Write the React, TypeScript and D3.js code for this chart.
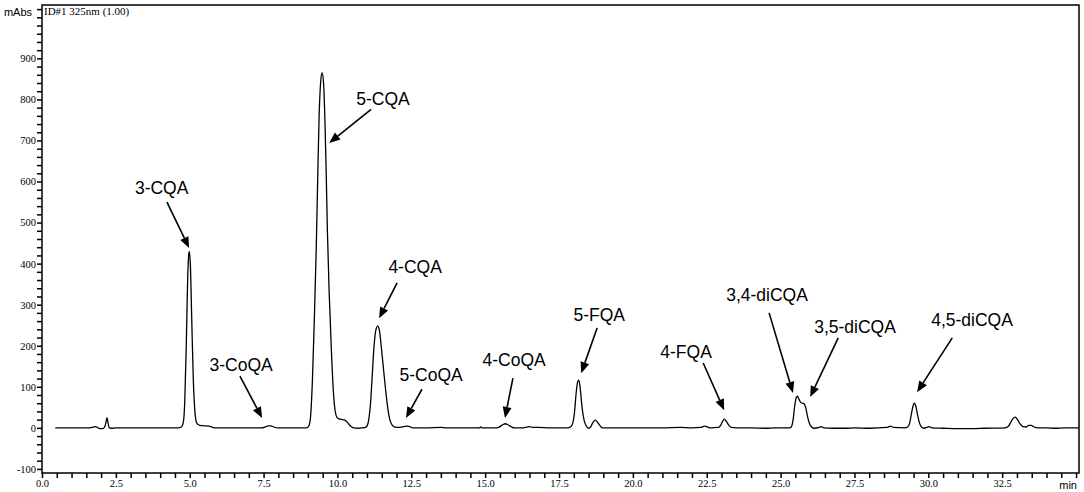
import { useEffect, useRef } from 'react';
import * as d3 from 'd3';

// retention time (min), absorbance (mAbs)
const trace: [number, number][] = [
  [0.45, 0], [1.0, 0], [1.6, 0], [1.7, 1], [1.8, 3], [1.88, 1], [1.95, -2], [2.05, -2],
  [2.12, 2], [2.17, 15], [2.2, 25], [2.23, 14], [2.28, 0], [2.35, -1], [2.5, 0], [3.2, 0],
  [3.7, 0], [4.2, 0], [4.6, 0],
  [4.72, 2], [4.78, 12], [4.83, 60], [4.88, 190], [4.93, 360], [4.97, 425], [4.99, 429],
  [5.02, 400], [5.07, 260], [5.12, 120], [5.17, 45], [5.22, 15], [5.28, 8], [5.35, 6],
  [5.5, 5], [5.65, 4], [5.75, 2], [5.85, 0], [6.5, 0], [7.0, 0], [7.4, 0], [7.55, 2],
  [7.65, 5], [7.75, 5], [7.85, 2], [7.95, 0], [8.5, 0], [8.95, 0],
  [9.02, 3], [9.08, 20], [9.15, 110], [9.22, 270], [9.28, 430], [9.33, 600], [9.38, 760],
  [9.43, 840], [9.48, 865], [9.53, 840], [9.58, 740], [9.62, 620], [9.66, 480], [9.72, 330],
  [9.8, 180], [9.87, 80], [9.93, 38], [10.0, 24], [10.1, 21], [10.25, 19], [10.35, 12],
  [10.45, 4], [10.55, 0], [10.7, -1], [10.85, 0],
  [10.95, 1], [11.0, 4], [11.06, 20], [11.12, 60], [11.18, 130], [11.24, 200], [11.3, 238],
  [11.36, 248], [11.42, 238], [11.48, 200], [11.55, 150], [11.62, 100], [11.7, 50],
  [11.78, 18], [11.86, 6], [11.95, 2], [12.1, 1], [12.25, 3], [12.35, 4], [12.45, 3],
  [12.55, 0], [13.0, 0], [13.5, 1], [13.7, 0], [14.2, 0], [14.8, 0], [14.85, 2], [14.9, 0],
  [15.4, 0], [15.5, 3], [15.6, 8], [15.68, 10], [15.78, 7], [15.9, 2], [16.0, 0], [16.3, 0],
  [16.4, 2], [16.5, 3], [16.6, 1], [16.8, 1], [17.2, 0], [17.8, 0],
  [17.88, 2], [17.95, 8], [18.02, 35], [18.08, 85], [18.13, 112], [18.17, 116], [18.22, 95],
  [18.28, 50], [18.35, 18], [18.42, 5], [18.5, -1], [18.57, 2], [18.64, 12], [18.72, 19],
  [18.8, 14], [18.88, 6], [18.96, 0], [19.3, 0], [19.8, 0], [20.5, 0], [21.0, 0], [21.6, 1],
  [22.0, 0], [22.3, 1], [22.42, 4], [22.5, 3], [22.6, 0], [22.9, 1],
  [22.97, 6], [23.03, 15], [23.1, 21], [23.17, 15], [23.25, 6], [23.33, 1], [23.5, 0],
  [24.0, 0], [24.5, -1], [24.8, 0], [25.3, 0],
  [25.36, 2], [25.42, 18], [25.48, 55], [25.53, 74], [25.57, 77], [25.62, 70], [25.68, 62],
  [25.74, 60], [25.8, 58], [25.86, 46], [25.92, 25], [25.98, 10], [26.05, 2], [26.12, -1],
  [26.3, 1], [26.38, 3], [26.46, 0], [26.8, -1], [27.2, -1], [27.5, 0], [28.0, -1],
  [28.6, 1], [28.72, 4], [28.82, 1], [29.2, 0],
  [29.3, 2], [29.37, 12], [29.43, 35], [29.49, 55], [29.53, 60], [29.58, 52], [29.64, 30],
  [29.7, 12], [29.77, 2], [29.85, -1], [29.95, 1], [30.03, 3], [30.12, 0], [30.5, -1],
  [31.0, -2], [31.5, -2], [31.9, -1], [32.6, 0],
  [32.7, 3], [32.78, 12], [32.86, 22], [32.94, 26], [33.02, 20], [33.1, 10], [33.2, 3],
  [33.3, 2], [33.4, 6], [33.48, 6], [33.58, 2], [33.7, 0], [34.0, 0], [34.3, -1], [34.6, 0],
  [35.1, 0],
];

// label position (tx, ty) and arrow from (x1, y1) to (x2, y2), in data units
const peakLabels = [
  { name: '3-CQA', tx: 4.05, ty: 569, x1: 4.23, y1: 550, x2: 4.98, y2: 438 },
  { name: '3-CoQA', tx: 6.74, ty: 138, x1: 6.7, y1: 126, x2: 7.45, y2: 24 },
  { name: '5-CQA', tx: 11.54, ty: 786, x1: 11.14, y1: 776, x2: 9.72, y2: 694 },
  { name: '4-CQA', tx: 12.63, ty: 377, x1: 12.02, y1: 353, x2: 11.41, y2: 267 },
  { name: '5-CoQA', tx: 13.17, ty: 114, x1: 12.86, y1: 94, x2: 12.32, y2: 24 },
  { name: '4-CoQA', tx: 15.98, ty: 150, x1: 15.94, y1: 121, x2: 15.67, y2: 24 },
  { name: '5-FQA', tx: 18.86, ty: 260, x1: 18.79, y1: 243, x2: 18.25, y2: 133 },
  { name: '4-FQA', tx: 21.8, ty: 170, x1: 22.38, y1: 158, x2: 23.09, y2: 43 },
  { name: '3,4-diCQA', tx: 24.54, ty: 309, x1: 24.61, y1: 280, x2: 25.42, y2: 85 },
  { name: '3,5-diCQA', tx: 27.52, ty: 231, x1: 26.95, y1: 219, x2: 26.0, y2: 75 },
  { name: '4,5-diCQA', tx: 31.48, ty: 248, x1: 30.81, y1: 219, x2: 29.62, y2: 87 },
];

const xTickLabels = [0, 2.5, 5, 7.5, 10, 12.5, 15, 17.5, 20, 22.5, 25, 27.5, 30, 32.5];
const yTickLabels = [-100, 0, 100, 200, 300, 400, 500, 600, 700, 800, 900];

const W = 1084;
const H = 492;

export default function App() {
  const ref = useRef<SVGSVGElement | null>(null);

  useEffect(() => {
    if (!ref.current) return;
    const svg = d3.select(ref.current);
    svg.selectAll('*').remove();

    const left = 42, right = 1079, top = 5, bottom = 473;
    const x = d3.scaleLinear().domain([0, 35.1]).range([left, right]);
    const y = d3.scaleLinear().domain([-110, 1030]).range([bottom, top]);

    const serif = '"Liberation Serif", "Times New Roman", serif';
    const sans = '"Liberation Sans", Arial, sans-serif';

    // frame
    svg.append('rect')
      .attr('x', left).attr('y', top)
      .attr('width', right - left).attr('height', bottom - top)
      .attr('fill', 'none').attr('stroke', '#000').attr('stroke-width', 1.5);

    // x axis
    const xAxis = d3.axisBottom(x)
      .tickValues(d3.range(0, 35.01, 0.5))
      .tickSize(5)
      .tickFormat(d => (xTickLabels.includes(+d) ? d3.format('.1f')(+d) : ''));
    const gx = svg.append('g').attr('transform', `translate(0,${bottom})`).call(xAxis);
    gx.select('.domain').remove();
    gx.selectAll('line').attr('stroke', '#000').attr('stroke-width', 1.5);
    gx.selectAll('text')
      .attr('font-family', serif).attr('font-size', 10.5).attr('fill', '#000').attr('dy', '0.55em');

    // y axis
    const yAxis = d3.axisLeft(y)
      .tickValues(d3.range(-100, 1021, 20))
      .tickSize(5)
      .tickFormat(d => (yTickLabels.includes(+d) ? String(d) : ''));
    const gy = svg.append('g').attr('transform', `translate(${left},0)`).call(yAxis);
    gy.select('.domain').remove();
    gy.selectAll('line').attr('stroke', '#000').attr('stroke-width', 1.5);
    gy.selectAll('text')
      .attr('font-family', serif).attr('font-size', 10.5).attr('fill', '#000').attr('x', -6);

    svg.append('text')
      .attr('x', 32).attr('y', 16).attr('text-anchor', 'end')
      .attr('font-family', sans).attr('font-size', 11).text('mAbs');

    svg.append('text')
      .attr('x', right - 2).attr('y', 489).attr('text-anchor', 'end')
      .attr('font-family', sans).attr('font-size', 11).text('min');

    svg.append('text')
      .attr('x', left + 2).attr('y', 15)
      .attr('font-family', serif).attr('font-size', 11).text('ID#1 325nm (1.00)');

    // chromatogram
    const line = d3.line<[number, number]>()
      .x(d => x(d[0]))
      .y(d => y(d[1]))
      .curve(d3.curveMonotoneX);

    svg.append('path')
      .datum(trace)
      .attr('fill', 'none')
      .attr('stroke', '#000')
      .attr('stroke-width', 1.3)
      .attr('stroke-linejoin', 'round')
      .attr('d', line);

    // peak labels and arrows
    const ann = svg.append('g');
    peakLabels.forEach(p => {
      const sx = x(p.x1), sy = y(p.y1), ex = x(p.x2), ey = y(p.y2);
      const len = Math.hypot(ex - sx, ey - sy);
      const ux = (ex - sx) / len, uy = (ey - sy) / len;
      const head = 11, half = 4.5;
      const bx = ex - ux * head, by = ey - uy * head;

      ann.append('line')
        .attr('x1', sx).attr('y1', sy).attr('x2', bx).attr('y2', by)
        .attr('stroke', '#000').attr('stroke-width', 1.6);

      ann.append('path')
        .attr('d', `M${ex},${ey}L${bx - uy * half},${by + ux * half}L${bx + uy * half},${by - ux * half}Z`)
        .attr('fill', '#000');

      ann.append('text')
        .attr('x', x(p.tx)).attr('y', y(p.ty))
        .attr('text-anchor', 'middle')
        .attr('font-family', sans).attr('font-size', 17.5).attr('fill', '#000')
        .text(p.name);
    });
  }, []);

  return (
    <svg
      ref={ref}
      width={W}
      height={H}
      style={{ position: 'absolute', left: 0, top: 0, background: '#fff' }}
    />
  );
}
